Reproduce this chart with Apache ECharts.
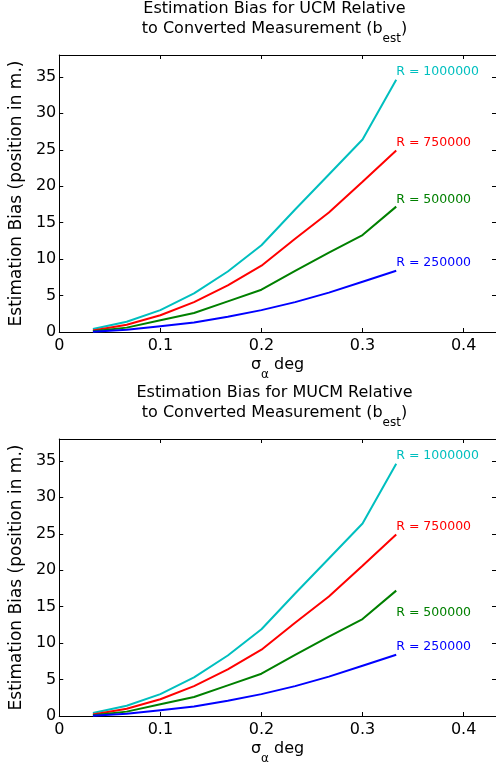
<!DOCTYPE html>
<html><head><meta charset="utf-8">
<script src="https://cdn.jsdelivr.net/npm/echarts@6/dist/echarts.min.js"></script>
<style>html,body{margin:0;padding:0;background:#fff}#c{width:496px;height:768px}</style>
</head><body><div id="c"></div>
<script>
// sigma_alpha (deg)
const sigma = [0.0333, 0.0667, 0.1, 0.1333, 0.1667, 0.2, 0.2333, 0.2667, 0.3, 0.3333];
// estimation bias (m) per range R
const r1000000 = [0.4, 1.4, 3.0, 5.3, 8.3, 11.9, 16.8, 21.6, 26.4, 34.6];
const r750000  = [0.2, 1.0, 2.3, 4.1, 6.4, 9.1, 12.8, 16.4, 20.6, 24.9];
const r500000  = [0.1, 0.6, 1.6, 2.6, 4.2, 5.8, 8.4, 10.9, 13.3, 17.2];
const r250000  = [0.05, 0.3, 0.8, 1.3, 2.1, 3.0, 4.1, 5.4, 6.9, 8.4];
const seriesNames = ['R = 1000000', 'R = 750000', 'R = 500000', 'R = 250000'];
const seriesValues = [r1000000, r750000, r500000, r250000];
const colors = ['#00BFBF', '#FF0000', '#008000', '#0000FF'];
const xTickLabels = ['0', '0.1', '0.2', '0.3', '0.4'];
const yTickLabels = ['0', '5', '10', '15', '20', '25', '30', '35'];
const titles = [
  ['Estimation Bias for UCM Relative', 'to Converted Measurement (b', 'est', ')'],
  ['Estimation Bias for MUCM Relative', 'to Converted Measurement (b', 'est', ')']
];

const FONT = 'DejaVu Sans';
const chart = echarts.init(document.getElementById('c'), null, {renderer: 'canvas'});

const gridTops = [55, 439];
const titleTops = [1, 385];
const labelOffsets = [
  [[0, -8], [0, -8], [0, -7], [0, -8]],
  [[0, -8], [0, -8], [0, 22], [0, -8]]
];

function fmtX(v) {
  const k = Math.round(v / 0.1);
  return Math.abs(v - k * 0.1) < 1e-6 ? (xTickLabels[k] || '') : '';
}
function fmtY(v) {
  const k = Math.round(v / 5);
  return Math.abs(v - k * 5) < 1e-6 ? (yTickLabels[k] || '') : '';
}

const option = {
  backgroundColor: '#fff',
  animation: false,
  title: [], grid: [], xAxis: [], yAxis: [], series: []
};

for (let g = 0; g < 2; g++) {
  const t = titles[g];
  option.title.push({
    text: '{m|' + t[0] + '}\n{m|' + t[1] + '}{s|' + t[2] + '}{m|' + t[3] + '}',
    left: 274.5, top: titleTops[g], textAlign: 'center', padding: 0,
    textStyle: {
      fontFamily: FONT, fontWeight: 'normal', fontSize: 16, color: '#000',
      rich: {
        m: {fontFamily: FONT, fontSize: 16, lineHeight: 20, verticalAlign: 'top', color: '#000'},
        s: {fontFamily: FONT, fontSize: 12, lineHeight: 12, verticalAlign: 'top', padding: [12, 0, 0, 0], color: '#000'}
      }
    }
  });
  option.grid.push({left: 52, top: gridTops[g], width: 445, height: 277, containLabel: false});
  const axisLineStyle = {show: true, onZero: false, lineStyle: {color: '#000', width: 1}};
  const tick = {show: true, inside: true, length: 4, lineStyle: {color: '#000'}};
  option.xAxis.push({
    type: 'value', gridIndex: g, min: 0, max: 0.432, interval: 0.1, position: 'bottom',
    axisLine: axisLineStyle, axisTick: tick,
    splitLine: {show: false},
    axisLabel: {formatter: fmtX, color: '#000', fontFamily: FONT, fontSize: 16, margin: 6, showMaxLabel: false},
    name: '{a|σ}{b|α}{a| deg}', nameLocation: 'middle', nameGap: 25,
    nameTextStyle: {
      color: '#000', fontFamily: FONT, fontSize: 16,
      rich: {
        a: {fontFamily: FONT, fontSize: 16, lineHeight: 16, verticalAlign: 'top', color: '#000'},
        b: {fontFamily: FONT, fontSize: 12, lineHeight: 12, verticalAlign: 'top', padding: [12, 0, 0, 0], color: '#000'}
      }
    }
  });
  option.xAxis.push({
    type: 'value', gridIndex: g, min: 0, max: 0.432, interval: 0.1, position: 'top',
    axisLine: axisLineStyle, axisTick: tick,
    splitLine: {show: false}, axisLabel: {show: false}
  });
  option.yAxis.push({
    type: 'value', gridIndex: g, min: 0, max: 38, interval: 5, position: 'left',
    axisLine: axisLineStyle, axisTick: tick,
    splitLine: {show: false},
    axisLabel: {formatter: fmtY, color: '#000', fontFamily: FONT, fontSize: 16, margin: 3, showMaxLabel: false},
    name: 'Estimation Bias (position in m.)', nameLocation: 'middle', nameGap: 28,
    nameTextStyle: {color: '#000', fontFamily: FONT, fontSize: 17}
  });
  option.yAxis.push({
    type: 'value', gridIndex: g, min: 0, max: 38, interval: 5, position: 'right',
    axisLine: axisLineStyle, axisTick: tick,
    splitLine: {show: false}, axisLabel: {show: false}
  });
  for (let i = 0; i < seriesValues.length; i++) {
    option.series.push({
      type: 'line', name: seriesNames[i], xAxisIndex: g * 2, yAxisIndex: g * 2,
      data: sigma.map((x, j) => [x, seriesValues[i][j]]),
      showSymbol: false, symbol: 'none', smooth: false,
      lineStyle: {color: colors[i], width: 2},
      itemStyle: {color: colors[i]},
      endLabel: {
        show: true, formatter: seriesNames[i], color: colors[i],
        fontFamily: FONT, fontSize: 12.5, distance: 0, offset: labelOffsets[g][i]
      },
      emphasis: {disabled: true}
    });
  }
}
chart.setOption(option);
</script></body></html>
